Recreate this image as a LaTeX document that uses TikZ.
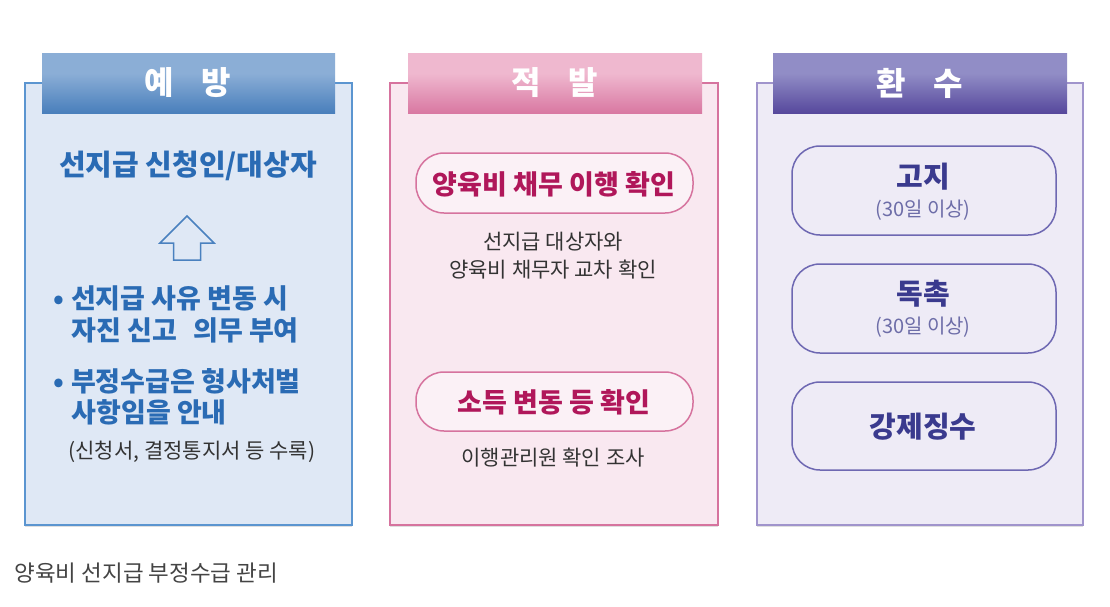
\documentclass[tikz,border=0pt]{standalone}
\usepackage{fontspec}
\setmainfont{Noto Sans CJK KR}
\usetikzlibrary{shadows}
\definecolor{bFill}{HTML}{DFE8F5}
\definecolor{bBorder}{HTML}{5B95D0}
\definecolor{bText}{HTML}{2A6BB4}
\definecolor{bTop}{HTML}{8BAED6}
\definecolor{bBot}{HTML}{2C6AB0}
\definecolor{pFill}{HTML}{F9E8F0}
\definecolor{pBorder}{HTML}{D6739E}
\definecolor{pTop}{HTML}{EFB8CF}
\definecolor{pBot}{HTML}{CF5C8E}
\definecolor{pText}{HTML}{B0175A}
\definecolor{vFill}{HTML}{EEEBF6}
\definecolor{vBorder}{HTML}{A094CC}
\definecolor{vTop}{HTML}{918DC6}
\definecolor{vBot}{HTML}{3D2A8A}
\definecolor{vText}{HTML}{3A3A8E}
\definecolor{vSub}{HTML}{6D6DA8}
\definecolor{vPill}{HTML}{6E68B2}
\definecolor{darkTxt}{HTML}{333333}
\definecolor{capTxt}{HTML}{444444}
\pgfdeclareverticalshading{bHead}{100bp}{color(0bp)=(bBot); color(10bp)=(bBot); color(32bp)=(bBot!55!bTop); color(58bp)=(bTop); color(100bp)=(bTop)}
\pgfdeclareverticalshading{pHead}{100bp}{color(0bp)=(pBot); color(10bp)=(pBot); color(32bp)=(pBot!55!pTop); color(58bp)=(pTop); color(100bp)=(pTop)}
\pgfdeclareverticalshading{vHead}{100bp}{color(0bp)=(vBot); color(10bp)=(vBot); color(32bp)=(vBot!55!vTop); color(58bp)=(vTop); color(100bp)=(vTop)}
\tikzset{
  panel/.style={draw=#1, line width=2pt, drop shadow={opacity=0.25, shadow xshift=0pt, shadow yshift=-2pt}},
  headtxt/.style={text=white, font=\fontsize{32}{36}\selectfont\bfseries},
  pill/.style={draw=#1, line width=1.5pt, rounded corners=28pt},
  big/.style={font=\fontsize{27}{30}\selectfont\bfseries},
  small/.style={font=\fontsize{21}{24}\selectfont, text=darkTxt},
}
\begin{document}
\begin{tikzpicture}[x=1pt,y=-1pt]
\useasboundingbox[fill=white] (0,0) rectangle (1110,606);
% ---------- Panel 1 ----------
\fill[panel=bBorder, fill=bFill] (25,83) rectangle (352,525);
\draw[bBorder, line width=2pt] (25,83) rectangle (352,525);
\shade[shading=bHead] (42,53) rectangle (335,113);
\node[headtxt] (h1) at (188,83) {예\hspace{0.85em}방};
\node[text=bText, font=\fontsize{29}{32}\selectfont\bfseries] (t1) at (188,166) {선지급 신청인/대상자};
\draw[bText!85, line width=1.5pt, line join=miter] (173.5,260) -- (173.5,243) -- (160,243) -- (187,216) -- (214,243) -- (200.5,243) -- (200.5,260) -- cycle;
\node[big, text=bText, anchor=west] (b1) at (50,298) {•\hspace{0.25em}선지급 사유 변동 시};
\node[big, text=bText, anchor=west] (b1b) at (68,330) {자진 신고\hspace{0.6em}의무 부여};
\node[big, text=bText, anchor=west] (b2) at (50,381) {•\hspace{0.25em}부정수급은 형사처벌};
\node[big, text=bText, anchor=west] (b2b) at (68,412) {사항임을 안내};
\node[small, anchor=west] (n1) at (65,452) {(신청서, 결정통지서 등 수록)};
% ---------- Panel 2 ----------
\fill[panel=pBorder, fill=pFill] (390,83) rectangle (718,525);
\draw[pBorder, line width=2pt] (390,83) rectangle (718,525);
\shade[shading=pHead] (408,53) rectangle (702,113);
\node[headtxt] (h2) at (555,83) {적\hspace{0.85em}발};
\draw[pill=pBorder, fill=pFill!60!white] (416,153) rectangle (693,213);
\node[text=pText, font=\fontsize{27}{30}\selectfont\bfseries] (p1) at (554,184) {양육비 채무 이행 확인};
\node[small] (s1) at (553,242) {선지급 대상자와};
\node[small] (s2) at (553,270) {양육비 채무자 교차 확인};
\draw[pill=pBorder, fill=pFill!60!white] (416,372) rectangle (693,431);
\node[text=pText, font=\fontsize{27}{30}\selectfont\bfseries] (p2) at (554,402) {소득 변동 등 확인};
\node[small] (s3) at (553,458) {이행관리원 확인 조사};
% ---------- Panel 3 ----------
\fill[panel=vBorder, fill=vFill] (757,83) rectangle (1083,525);
\draw[vBorder, line width=2pt] (757,83) rectangle (1083,525);
\shade[shading=vHead] (773,53) rectangle (1067,113);
\node[headtxt] (h3) at (920,83) {환\hspace{0.85em}수};
\draw[pill=vPill, fill=vFill] (792,146) rectangle (1056,235);
\node[text=vText, font=\fontsize{29}{32}\selectfont\bfseries] (g1) at (923,177) {고지};
\node[font=\fontsize{20}{23}\selectfont, text=vSub] (g1s) at (923,210) {(30일 이상)};
\draw[pill=vPill, fill=vFill] (792,264) rectangle (1056,353);
\node[text=vText, font=\fontsize{29}{32}\selectfont\bfseries] (g2) at (923,294) {독촉};
\node[font=\fontsize{20}{23}\selectfont, text=vSub] (g2s) at (923,327) {(30일 이상)};
\draw[pill=vPill, fill=vFill] (792,382) rectangle (1056,470);
\node[text=vText, font=\fontsize{29}{32}\selectfont\bfseries] (g3) at (923,427) {강제징수};
% ---------- Caption ----------
\node[anchor=west, font=\fontsize{22.5}{26}\selectfont, text=capTxt] (cap) at (11,573) {양육비 선지급 부정수급 관리};
\end{tikzpicture}
\end{document}
